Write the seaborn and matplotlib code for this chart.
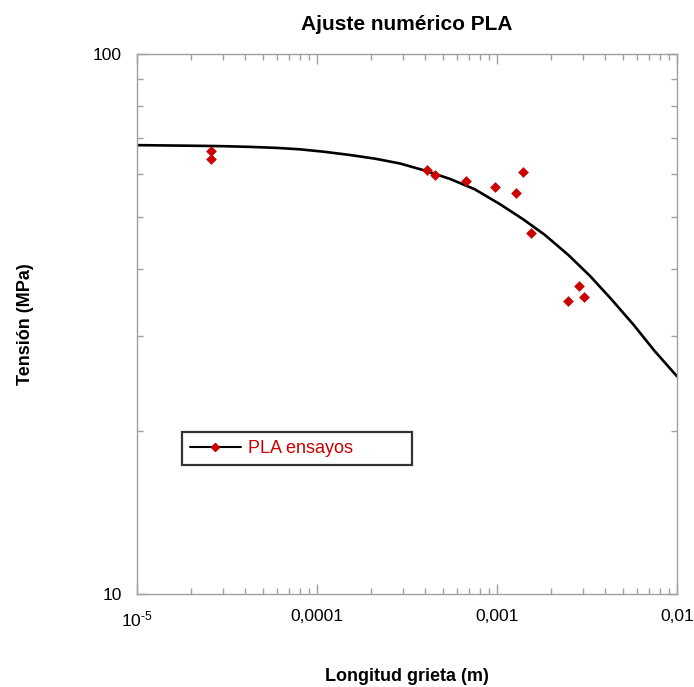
import matplotlib
matplotlib.use("Agg")
import matplotlib.pyplot as plt
from matplotlib.lines import Line2D
from matplotlib.ticker import LogLocator, NullFormatter
import seaborn as sns
import pandas as pd

# ---- data ----
crack_tests = [2.58e-5, 2.58e-5, 4.10e-4, 4.52e-4, 6.73e-4, 9.79e-4,
               1.27e-3, 1.39e-3, 1.55e-3, 2.47e-3, 2.86e-3, 3.06e-3]
stress_tests = [66.2, 64.0, 61.0, 59.8, 58.1, 56.6,
                55.4, 60.5, 46.6, 34.9, 37.2, 35.5]

crack_fit = [1e-5, 1.5e-5, 2.24e-5, 3e-5, 4.25e-5, 6e-5, 8.05e-5, 1.1e-4,
             1.53e-4, 2.1e-4, 2.89e-4, 4e-4, 5.48e-4, 7.5e-4, 1.04e-3,
             1.4e-3, 1.85e-3, 2.5e-3, 3.29e-3, 4.3e-3, 5.7e-3, 7.5e-3, 1e-2]
stress_fit = [67.8, 67.7, 67.6, 67.5, 67.3, 67.0, 66.6, 65.9,
              65.0, 64.0, 62.7, 60.8, 58.7, 56.2, 52.7,
              49.4, 46.2, 42.4, 38.8, 35.2, 31.6, 28.2, 25.3]

xtick_vals = [1e-5, 1e-4, 1e-3, 1e-2]
xtick_labels = [r"$10^{\text{-5}}$", "0,0001", "0,001", "0,01"]
ytick_vals = [10, 100]
ytick_labels = ["10", "100"]

title = "Ajuste numérico PLA"
xlabel = "Longitud grieta (m)"
ylabel = "Tensión (MPa)"
legend_label = "PLA ensayos"

# ---- style ----
sns.set_style("white")
plt.rcParams["font.family"] = ["Liberation Sans", "DejaVu Sans"]
plt.rcParams["mathtext.fontset"] = "custom"
plt.rcParams["mathtext.rm"] = "Liberation Sans"
plt.rcParams["mathtext.it"] = "Liberation Sans:italic"
plt.rcParams["mathtext.bf"] = "Liberation Sans:bold"
plt.rcParams["text.color"] = "black"
plt.rcParams["axes.labelcolor"] = "black"
plt.rcParams["axes.titlecolor"] = "black"

RED = "#cc0000"
GRAY = "#a0a0a0"

fig = plt.figure(figsize=(6.94, 6.87), dpi=100)
ax = fig.add_axes([137 / 694, 1 - 594 / 687, 540 / 694, 540 / 687])

df_fit = pd.DataFrame({"a": crack_fit, "s": stress_fit})
df_tests = pd.DataFrame({"a": crack_tests, "s": stress_tests})

sns.lineplot(data=df_fit, x="a", y="s", ax=ax, color="black", linewidth=1.9,
             sort=False, legend=False)
sns.scatterplot(data=df_tests, x="a", y="s", ax=ax, marker="D", s=30,
                color=RED, edgecolor=RED, linewidth=0, legend=False, zorder=3)

ax.set_xscale("log")
ax.set_yscale("log")
ax.set_xlim(1e-5, 1e-2)
ax.set_ylim(10, 100)

ax.set_xticks(xtick_vals)
ax.set_xticklabels(xtick_labels)
ax.set_yticks(ytick_vals)
ax.set_yticklabels(ytick_labels)
ax.xaxis.set_minor_locator(LogLocator(base=10, subs=range(2, 10)))
ax.yaxis.set_minor_locator(LogLocator(base=10, subs=range(2, 10)))
ax.xaxis.set_minor_formatter(NullFormatter())
ax.yaxis.set_minor_formatter(NullFormatter())

ax.tick_params(which="both", direction="in", top=True, right=True,
               bottom=True, left=True, color=GRAY, width=1)
ax.tick_params(which="major", length=7, labelsize=12.5, pad=11,
               labelcolor="black")
ax.tick_params(which="minor", length=4)

for sp in ax.spines.values():
    sp.set_color(GRAY)
    sp.set_linewidth(1)

ax.set_title(title, fontsize=15, fontweight="bold", pad=17, color="black")
ax.set_xlabel(xlabel, fontsize=13, fontweight="bold", color="black")
ax.set_ylabel(ylabel, fontsize=13, fontweight="bold", color="black")
ax.xaxis.set_label_coords(0.5, -0.137, transform=ax.transAxes)
ax.xaxis.label.set_va("top")
ax.yaxis.set_label_coords(-0.19, 0.5, transform=ax.transAxes)

handle = Line2D([], [], color="black", linewidth=1.5, marker="D",
                markersize=4.5, markerfacecolor=RED, markeredgecolor=RED)
leg = ax.legend([handle], [legend_label], loc="lower left",
                bbox_to_anchor=(45 / 540, 129 / 540, 230 / 540, 35 / 540),
                mode="expand", fancybox=False, frameon=True,
                fontsize=13, handlelength=2.8, handletextpad=0.4,
                borderpad=0.45, borderaxespad=0)
leg.get_frame().set_edgecolor("black")
leg.get_frame().set_linewidth(1.6)
for t in leg.get_texts():
    t.set_color(RED)

fig.savefig("out.png", dpi=100, facecolor="white")
